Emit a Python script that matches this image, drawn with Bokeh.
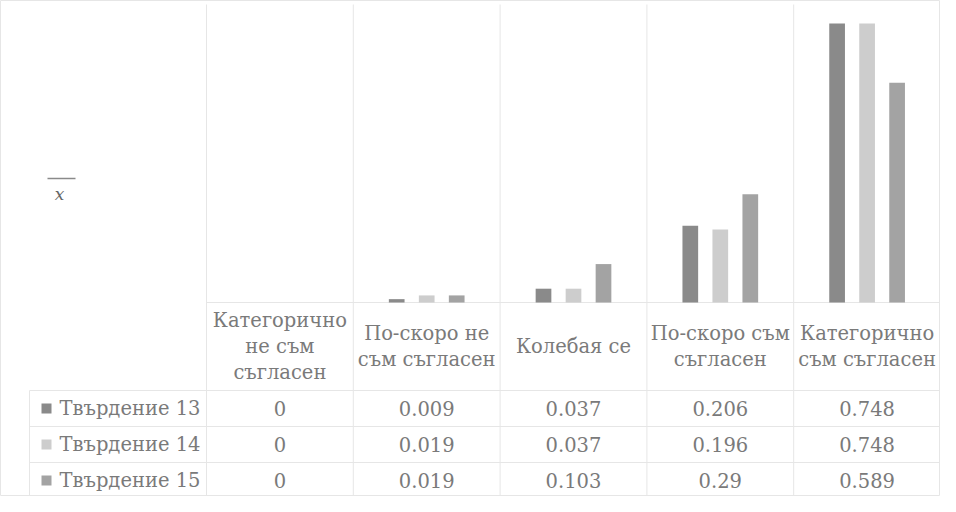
import numpy as np
from bokeh.plotting import figure
from bokeh.models import ColumnDataSource, Range1d
from bokeh.core.properties import value
from bokeh.embed import file_html
from bokeh.resources import INLINE

# ---------------- data ----------------
categories = ["Категорично\nне съм\nсъгласен", "По-скоро не\nсъм съгласен", "Колебая се",
              "По-скоро съм\nсъгласен", "Категорично\nсъм съгласен"]
series_names = ["Твърдение 13", "Твърдение 14", "Твърдение 15"]
t13 = [0, 0.009, 0.037, 0.206, 0.748]
t14 = [0, 0.019, 0.037, 0.196, 0.748]
t15 = [0, 0.019, 0.103, 0.29, 0.589]
series_values = [t13, t14, t15]
colors = ["#8a8a8a", "#cdcdcd", "#a3a3a3"]
y_title = "x"

# ---------------- geometry (pixels inside the figure) ----------------
W, H = 940, 496
COL_LEFT = 206.0
COL_W = (W - COL_LEFT) / len(categories)
BASE = 302.0
UNIT = 373.0

def dx(px):
    return (px - COL_LEFT) / COL_W

def dy(py):
    return (BASE - py) / UNIT

FONT = value("DejaVu Serif")
TXT = "#7a7a7a"
GRID = "#e6e6e6"
FS = "19.5px"

p = figure(width=W, height=H, x_range=Range1d(dx(0), dx(W)), y_range=Range1d(dy(H), dy(0)),
           output_backend="svg", toolbar_location=None,
           min_border_left=0, min_border_right=0, min_border_top=0, min_border_bottom=0)
p.xaxis.visible = False
p.yaxis.visible = False
p.grid.visible = False
p.outline_line_color = "#e6e6e6"
p.background_fill_color = "white"

n = len(categories)
centers = np.arange(n) + 0.5

# column separators, category baseline, table rules
p.segment(x0=np.arange(n + 1), y0=[dy(H)] * (n + 1), x1=np.arange(n + 1), y1=[dy(4)] * (n + 1),
          line_color=GRID, line_width=1)
p.segment(x0=[0], y0=[0], x1=[n], y1=[0], line_color=GRID, line_width=1)
row_lines = [390, 426, 462]
p.segment(x0=[dx(29)] * 3, y0=[dy(r) for r in row_lines], x1=[n] * 3, y1=[dy(r) for r in row_lines],
          line_color=GRID, line_width=1)
p.segment(x0=[dx(29)], y0=[dy(390)], x1=[dx(29)], y1=[dy(H)], line_color=GRID, line_width=1)

# bars
bar_w = 15.7 / COL_W
step = 30.0 / COL_W
for s, (vals, col) in enumerate(zip(series_values, colors)):
    src = ColumnDataSource(dict(x=centers + (s - 1) * step, top=vals))
    p.vbar(x="x", top="top", bottom=0, width=bar_w, source=src, fill_color=col, line_color=None)

# y title: italic x with an overline
p.text(x=[dx(59)], y=[dy(193)], text=[y_title], text_font=FONT, text_font_size="17px",
       text_font_style="italic", text_color="#666666", text_align="center", text_baseline="middle")
p.segment(x0=[dx(47)], y0=[dy(178)], x1=[dx(75)], y1=[dy(178)], line_color="#8a8a8a", line_width=1.5)

# category headers
p.text(x=centers, y=[dy(346)] * n, text=categories, text_font=FONT, text_font_size=FS,
       text_color=TXT, text_align="center", text_baseline="middle", text_line_height=1.15)

# table rows
row_centers = [408, 444, 480]
for s, (name, vals, col) in enumerate(zip(series_names, series_values, colors)):
    yy = dy(row_centers[s])
    p.scatter(x=[dx(46)], y=[yy], marker="square", size=10, fill_color=col, line_color=None)
    p.text(x=[dx(59)], y=[yy], text=[name], text_font=FONT, text_font_size=FS,
           text_color=TXT, text_align="left", text_baseline="middle")
    p.text(x=centers, y=[yy] * n, text=[f"{v:g}" for v in vals], text_font=FONT,
           text_font_size=FS, text_color=TXT, text_align="center", text_baseline="middle")

open("out.html", "w").write(file_html(p, INLINE))
